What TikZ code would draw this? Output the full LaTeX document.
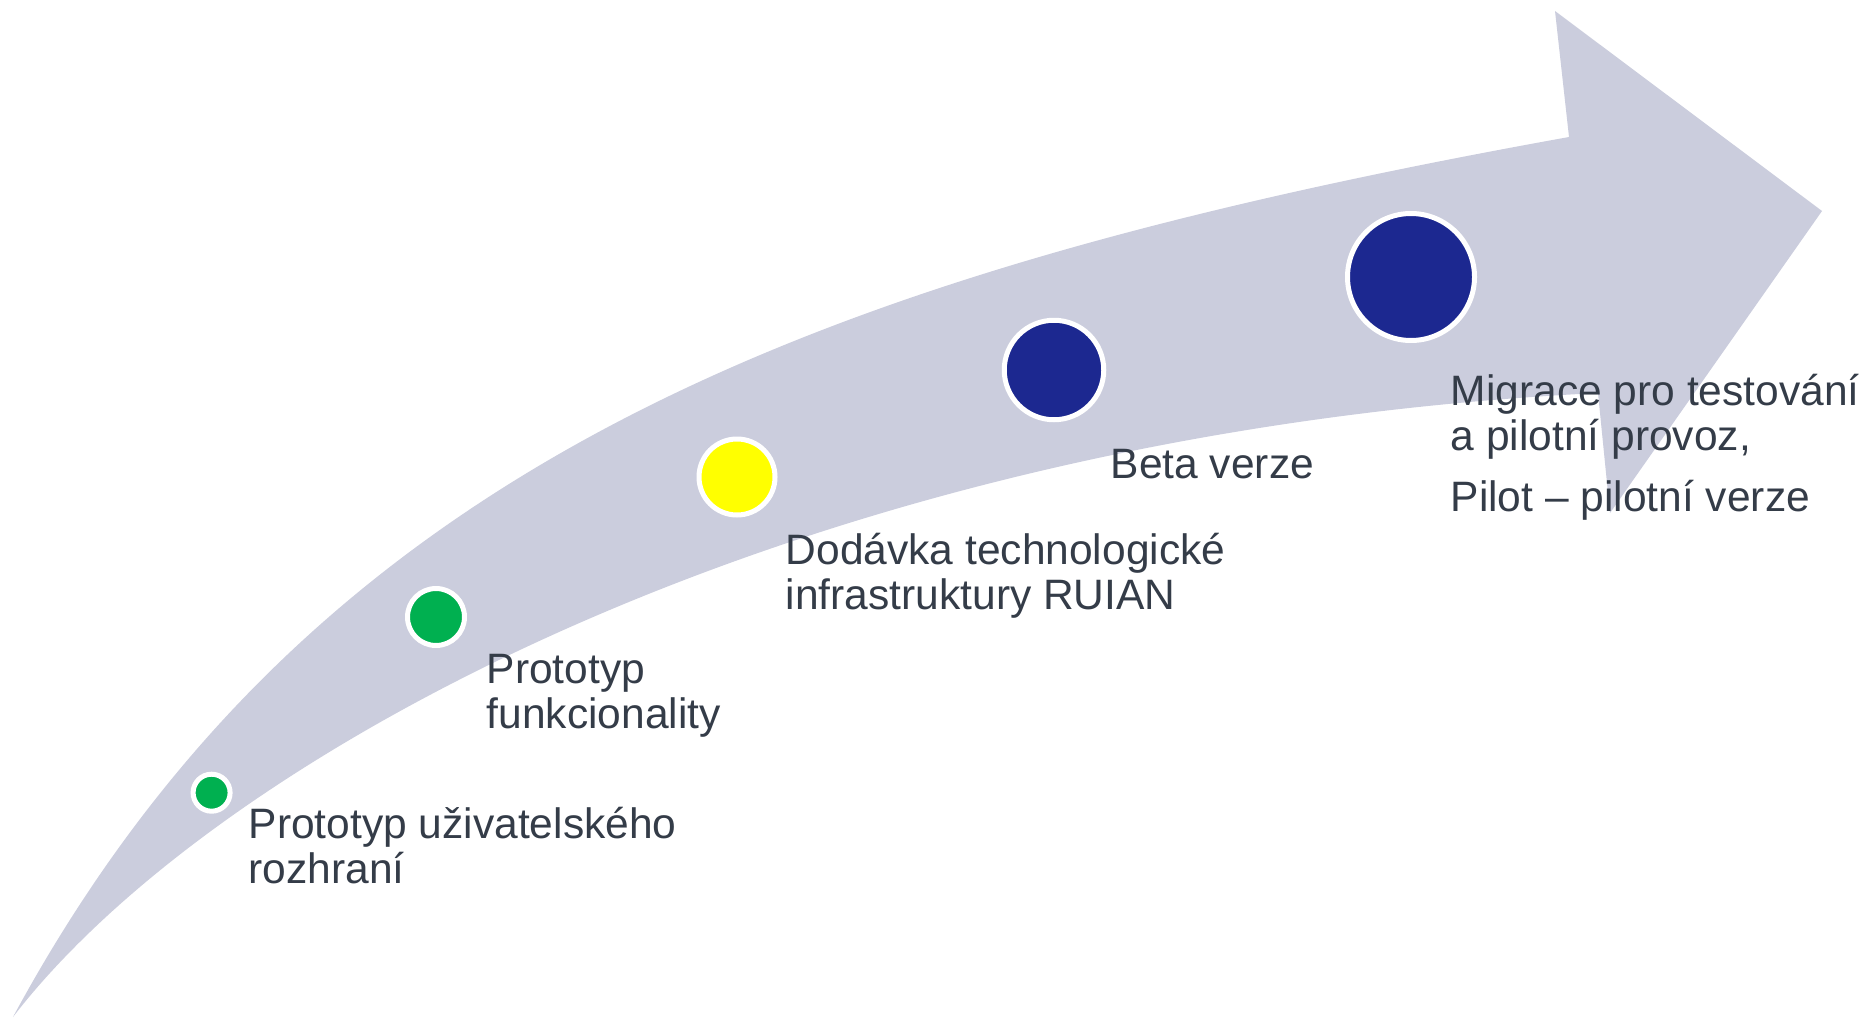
\documentclass[tikz,border=0pt]{standalone}
\usepackage{fontspec}
\setmainfont{Liberation Sans}
\usepackage{xcolor}
\definecolor{ArrowGrey}{HTML}{CBCDDD}
\definecolor{StageGreen}{HTML}{00B050}
\definecolor{StageYellow}{HTML}{FFFF00}
\definecolor{StageBlue}{HTML}{1C2890}
\definecolor{LabelGrey}{HTML}{343C48}
\usepackage{tikz}
\usetikzlibrary{calc}

\begin{document}
\begin{tikzpicture}[stage/.style={circle,draw=white,line width=0.05cm,inner sep=0pt},
	stagelabel/.style={anchor=base west,align=left,inner sep=0pt,text=LabelGrey,font=\fontsize{12.1}{12.8}\selectfont}]
		
		\useasboundingbox (0,0) rectangle (18.65,10.18);
		
		%% ARROW
		\coordinate (TailTip) at (0.13,0.01);
		\coordinate (ShaftTop) at (15.69,8.81);
		\coordinate (HeadTop) at (15.55,10.07);
		\coordinate (HeadTip) at (18.22,8.07);
		\coordinate (HeadBot) at (16.10,5.05);
		\coordinate (ShaftBot) at (15.98,6.25);
		
		\fill[ArrowGrey] (TailTip) .. controls (3.13,5.56) and (8.19,7.46) .. (ShaftTop) -- (HeadTop) -- (HeadTip) -- (HeadBot) -- (ShaftBot) .. controls (7.98,5.85) and (2.13,2.61) .. (TailTip) -- cycle;
		
		%% STAGES
		\foreach \stg/\pos/\sz/\col in {S1/{(2.116,2.253)}/0.37/StageGreen,
			S2/{(4.36,4.01)}/0.57/StageGreen,
			S3/{(7.37,5.41)}/0.76/StageYellow,
			S4/{(10.54,6.48)}/0.995/StageBlue,
			S5/{(14.11,7.41)}/1.27/StageBlue}{
			\node[stage,fill=\col,minimum size=\sz cm] (\stg) at \pos {};
		}
		
		%% LABELS (base = last line)
		\node[stagelabel] (L1) at (2.48,1.35) {Prototyp uživatelského\\rozhraní};
		\node[stagelabel] (L2) at (4.86,2.90) {Prototyp\\funkcionality};
		\node[stagelabel] (L3) at (7.85,4.09) {Dodávka technologické\\infrastruktury RUIAN};
		\node[stagelabel] (L4) at (11.10,5.40) {Beta verze};
		\node[stagelabel] (L5) at (14.50,5.07) {Migrace pro testování\\a pilotní provoz,\\[0.16cm]Pilot – pilotní verze};
		
	\end{tikzpicture}
\end{document}
